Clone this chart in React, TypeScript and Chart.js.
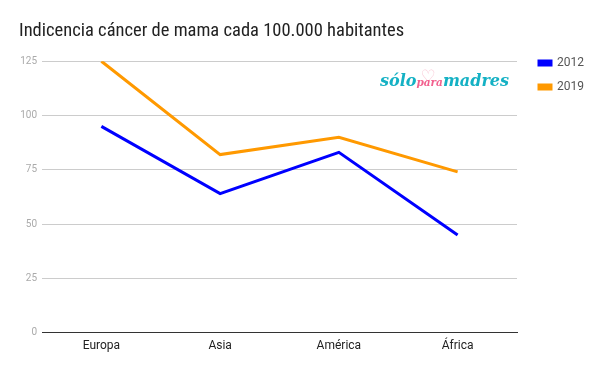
import React, { useEffect, useRef } from "react";
import { Chart, registerables } from "chart.js";

Chart.register(...registerables);

const categories = ["Europa", "Asia", "América", "África"];
const series2012 = [95, 64, 83, 45];
const series2019 = [125, 82, 90, 74];
const seriesLabels = ["2012", "2019"];
const yTicks = [0, 25, 50, 75, 100, 125];
const titleText = "Indicencia cáncer de mama cada 100.000 habitantes";

export default function App() {
  const canvasRef = useRef<HTMLCanvasElement | null>(null);

  useEffect(() => {
    document.body.style.margin = "0";
    const canvas = canvasRef.current;
    if (!canvas) return;

    const legendFix = {
      id: "legendFix",
      beforeInit(chart: any) {
        const lg = chart.legend;
        if (lg) {
          const origFit = lg.fit.bind(lg);
          lg.fit = () => {
            origFit();
            lg.width = 83;
          };
        }
      },
      afterLayout(chart: any) {
        const lg = chart.legend;
        if (lg) {
          lg.left = 527;
          lg.top = 45;
        }
      },
    };

    const chart = new Chart(canvas, {
      type: "line",
      data: {
        labels: categories,
        datasets: [
          {
            label: seriesLabels[0],
            data: series2012,
            borderColor: "#0000ff",
            backgroundColor: "#0000ff",
            borderWidth: 3,
            pointRadius: 0,
            tension: 0,
          },
          {
            label: seriesLabels[1],
            data: series2019,
            borderColor: "#ff9900",
            backgroundColor: "#ff9900",
            borderWidth: 3,
            pointRadius: 0,
            tension: 0,
          },
        ],
      },
      options: {
        animation: false,
        responsive: false,
        maintainAspectRatio: false,
        layout: { padding: { left: 19, right: 0, top: 0, bottom: 12 } },
        plugins: {
          title: {
            display: true,
            text: titleText,
            align: "start",
            color: "#222222",
            font: { family: "'Liberation Sans Narrow', 'Roboto Condensed', Roboto", size: 18.5, weight: "normal" },
            padding: { top: 20, bottom: 19 },
          },
          legend: {
            display: true,
            position: "right",
            align: "start",
            labels: {
              boxWidth: 12,
              boxHeight: 4,
              padding: 12,
              color: "#555555",
              font: { family: "Roboto", size: 12 },
            },
          },
          tooltip: { enabled: false },
        },
        scales: {
          x: {
            offset: true,
            grid: { display: false, drawTicks: false },
            border: { display: true, color: "#333333", width: 1 },
            ticks: {
              color: "#222222",
              font: { family: "Roboto", size: 12 },
              padding: 6,
            },
          },
          y: {
            min: 0,
            max: 125,
            afterBuildTicks: (scale: any) => {
              scale.ticks = yTicks.map((v) => ({ value: v }));
            },
            afterFit: (scale: any) => {
              scale.width = 23;
            },
            grid: {
              color: (ctx: any) => (ctx.tick && ctx.tick.value === 0 ? "#333333" : "#cccccc"),
              drawTicks: false,
            },
            border: { display: false },
            ticks: {
              color: "#aaaaaa",
              font: { family: "Roboto", size: 10 },
              padding: 5,
            },
          },
        },
      },
      plugins: [legendFix],
    } as any);

    return () => chart.destroy();
  }, []);

  return (
    <div style={{ position: "relative", width: 600, height: 371, background: "#fff" }}>
      <canvas ref={canvasRef} width={600} height={371} style={{ display: "block" }} />
      <div
        style={{
          position: "absolute",
          left: 380,
          top: 69,
          fontFamily: "'DejaVu Serif', serif",
          fontStyle: "italic",
          fontWeight: "bold",
          color: "#14b1c4",
          fontSize: 16,
          lineHeight: "24px",
          whiteSpace: "nowrap",
          letterSpacing: 0,
        }}
      >
        <span>sólo</span>
        <span style={{ position: "relative", color: "#f2608e", fontSize: 10.5 }}>
          <span
            style={{
              position: "absolute",
              left: 4,
              top: -12,
              color: "#f9c6d4",
              fontSize: 17,
              fontStyle: "normal",
              fontWeight: "normal",
              fontFamily: "'DejaVu Sans', sans-serif",
            }}
          >
            ♡
          </span>
          <span style={{ position: "relative" }}>para</span>
        </span>
        <span>madres</span>
      </div>
    </div>
  );
}
